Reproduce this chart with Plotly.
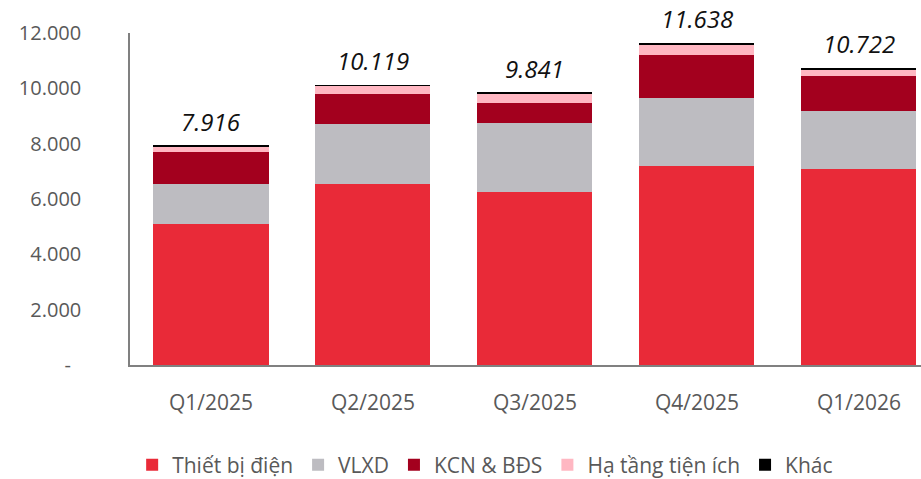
import plotly.graph_objects as go

categories = ["Q1/2025", "Q2/2025", "Q3/2025", "Q4/2025", "Q1/2026"]
thiet_bi_dien = [5110, 6540, 6250, 7190, 7080]
vlxd = [1450, 2160, 2500, 2450, 2110]
kcn_bds = [1140, 1090, 720, 1560, 1250]
ha_tang = [180, 300, 330, 400, 250]
khac = [36, 29, 41, 38, 32]
totals = [7916, 10119, 9841, 11638, 10722]
total_labels = ["7.916", "10.119", "9.841", "11.638", "10.722"]

y_tickvals = [0, 2000, 4000, 6000, 8000, 10000, 12000]
y_ticktext = ["-\u00a0\u00a0", "2.000", "4.000", "6.000", "8.000", "10.000", "12.000"]

series = [
    ("Thiết bị điện", thiet_bi_dien, "#E92A38"),
    ("VLXD", vlxd, "#BDBCC1"),
    ("KCN & BĐS", kcn_bds, "#A3001E"),
    ("Hạ tầng tiện ích", ha_tang, "#FFB7C2"),
    ("Khác", khac, "#000000"),
]

fig = go.Figure()
for name, vals, color in series:
    fig.add_trace(go.Bar(x=categories, y=vals, name=name,
                         marker=dict(color=color, line=dict(width=0))))

for cat, tot, lab in zip(categories, totals, total_labels):
    fig.add_annotation(x=cat, y=tot, text=lab, showarrow=False,
                       yanchor="bottom", yshift=6,
                       font=dict(family="Open Sans", size=24, color="#111111", style="italic"))

fig.update_layout(
    width=921, height=479,
    barmode="stack", bargap=0.29,
    plot_bgcolor="white", paper_bgcolor="white",
    margin=dict(l=130, r=0, t=33, b=114, autoexpand=False),
    font=dict(family="Open Sans", color="#595959"),
    showlegend=True,
    legend=dict(orientation="h", x=0.449, xanchor="center", y=-0.24, yanchor="top",
                font=dict(size=21, color="#595959"), itemwidth=30,
                traceorder="normal"),
)
fig.update_xaxes(range=[-0.5, 4.383], showline=True, linecolor="#808080", linewidth=1.5,
                 tickfont=dict(size=21, color="#595959"), ticks="", ticklabelstandoff=18,
                 showgrid=False)
fig.update_yaxes(range=[0, 12000], tickvals=y_tickvals, ticktext=y_ticktext,
                 showline=True, linecolor="#808080", linewidth=1.5, showgrid=False,
                 tickfont=dict(size=20, color="#595959"), ticks="", ticklabelstandoff=43,
                 zeroline=False)

fig.write_html("out.html", config={"displayModeBar": False},
               post_script="document.body.style.margin='0';document.body.style.overflow='hidden';")
